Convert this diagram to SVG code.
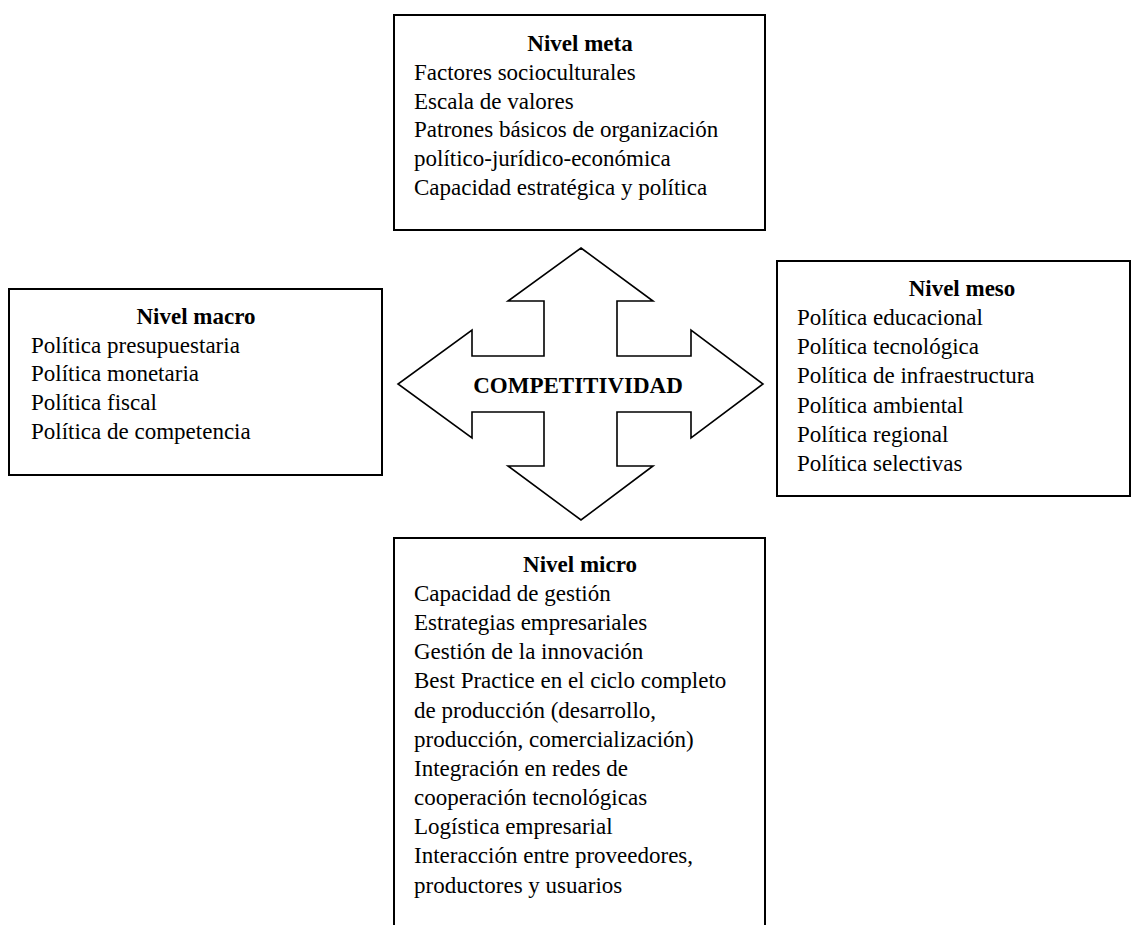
<svg xmlns="http://www.w3.org/2000/svg" width="1134" height="925" viewBox="0 0 1134 925">
<style>
.box{fill:#fff;stroke:#000;stroke-width:2}
.t{font-family:'Liberation Serif','Times New Roman',Tinos,'DejaVu Serif',serif;font-size:23px;font-weight:400;fill:#000}
.h{font-weight:700;text-anchor:middle}
.arrow{fill:#fff;stroke:#000;stroke-width:1.6;stroke-linejoin:miter}
</style>
<rect width="1134" height="925" fill="#fff"/>
<g id="connectors">
<polygon class="arrow" points="581,248 653,301 617,301 617,356 691,356 691,330 763,384 691,438 691,412 617,412 617,466 653,466 581,520 508,466 544,466 544,412 472,412 472,438 398,384 472,330 472,356 544,356 544,301 508,301"/>
<text class="t h" x="578" y="393">COMPETITIVIDAD</text>
</g>
<g id="meta">
<rect class="box" x="394" y="15" width="371" height="215"/>
<text class="t h" x="580" y="51">Nivel meta</text>
<text class="t" x="414" y="80">Factores socioculturales</text>
<text class="t" x="414" y="109">Escala de valores</text>
<text class="t" x="414" y="137">Patrones básicos de organización</text>
<text class="t" x="414" y="166">político-jurídico-económica</text>
<text class="t" x="414" y="195">Capacidad estratégica y política</text>
</g>
<g id="macro">
<rect class="box" x="9" y="289" width="373" height="186"/>
<text class="t h" x="196" y="324">Nivel macro</text>
<text class="t" x="31" y="353">Política presupuestaria</text>
<text class="t" x="31" y="381">Política monetaria</text>
<text class="t" x="31" y="410">Política fiscal</text>
<text class="t" x="31" y="439">Política de competencia</text>
</g>
<g id="meso">
<rect class="box" x="777" y="261" width="353" height="235"/>
<text class="t h" x="962" y="296">Nivel meso</text>
<text class="t" x="797" y="325">Política educacional</text>
<text class="t" x="797" y="354">Política tecnológica</text>
<text class="t" x="797" y="383">Política de infraestructura</text>
<text class="t" x="797" y="413">Política ambiental</text>
<text class="t" x="797" y="442">Política regional</text>
<text class="t" x="797" y="471">Política selectivas</text>
</g>
<g id="micro">
<rect class="box" x="394" y="538" width="371" height="400"/>
<text class="t h" x="580" y="572">Nivel micro</text>
<text class="t" x="414" y="601">Capacidad de gestión</text>
<text class="t" x="414" y="630">Estrategias empresariales</text>
<text class="t" x="414" y="659">Gestión de la innovación</text>
<text class="t" x="414" y="688">Best Practice en el ciclo completo</text>
<text class="t" x="414" y="718">de producción (desarrollo,</text>
<text class="t" x="414" y="747">producción, comercialización)</text>
<text class="t" x="414" y="776">Integración en redes de</text>
<text class="t" x="414" y="805">cooperación tecnológicas</text>
<text class="t" x="414" y="834">Logística empresarial</text>
<text class="t" x="414" y="863">Interacción entre proveedores,</text>
<text class="t" x="414" y="893">productores y usuarios</text>
</g>
</svg>
